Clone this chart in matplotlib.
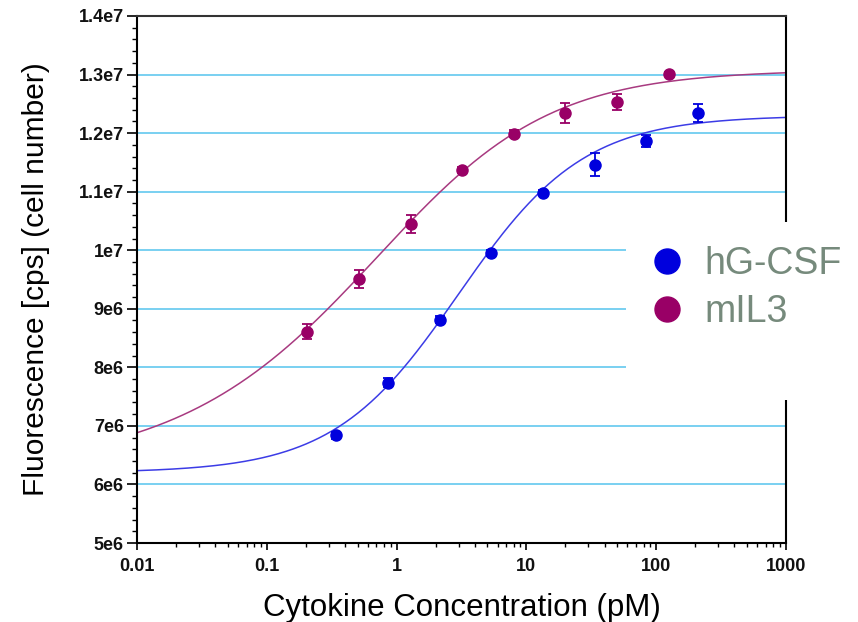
import numpy as np
import matplotlib
matplotlib.use("Agg")
import matplotlib.pyplot as plt
from matplotlib.lines import Line2D
from matplotlib.patches import Rectangle
from matplotlib.ticker import FixedLocator, FixedFormatter, LogLocator, NullFormatter

# ---- data ----
series_names = ["hG-CSF", "mIL3"]
conc_gcsf = [0.344, 0.86, 2.15, 5.38, 13.4, 33.6, 84.0, 210.0]
fluo_gcsf = [6.84e6, 7.74e6, 8.81e6, 9.95e6, 1.0985e7, 1.146e7, 1.187e7, 1.2345e7]
err_gcsf = [0.06e6, 0.08e6, 0.06e6, 0.05e6, 0.05e6, 0.20e6, 0.10e6, 0.15e6]

conc_il3 = [0.2048, 0.512, 1.28, 3.2, 8.0, 20.0, 50.0, 125.0]
fluo_il3 = [8.61e6, 9.51e6, 1.0445e7, 1.137e7, 1.1986e7, 1.234e7, 1.253e7, 1.301e7]
err_il3 = [0.13e6, 0.16e6, 0.155e6, 0.05e6, 0.06e6, 0.17e6, 0.13e6, 0.03e6]

# fitted logistic curve parameters (bottom, top, EC50, hill, asymmetry)
fit_gcsf = [6.2e6, 12.3e6, 3.0, 0.9, 1.0]
fit_il3 = [6.2e6, 13.08e6, 1.213, 0.68, 0.7]

y_ticks = [5e6, 6e6, 7e6, 8e6, 9e6, 1e7, 1.1e7, 1.2e7, 1.3e7, 1.4e7]
y_ticklabels = ["5e6", "6e6", "7e6", "8e6", "9e6", "1e7", "1.1e7", "1.2e7", "1.3e7", "1.4e7"]
x_ticks = [0.01, 0.1, 1, 10, 100, 1000]
x_ticklabels = ["0.01", "0.1", "1", "10", "100", "1000"]

col_gcsf = "#0000dd"
col_il3 = "#990066"
curve_gcsf = "#3c3ce6"
curve_il3 = "#a83a80"
grid_col = "#55c3ee"
legend_txt = "#768a7c"

plt.rcParams["font.family"] = ["Liberation Sans", "DejaVu Sans"]


def logistic(x, p):
    b, t, c, h, s = p
    return b + (t - b) / (1.0 + (c / x) ** h) ** s


fig = plt.figure(figsize=(8.58, 6.22), dpi=100)
W, H = 858.0, 622.0
ax = fig.add_axes([137 / W, 1 - 543 / H, (786 - 137) / W, (543 - 16) / H])

ax.set_xscale("log")
ax.set_xlim(0.01, 1000)
ax.set_ylim(5e6, 1.4e7)

# grid lines at major y ticks
for yv in y_ticks[1:-1]:
    ax.axhline(yv, color=grid_col, lw=1.1, zorder=1)

xx = np.logspace(-2, 3, 400)
ax.plot(xx, logistic(xx, fit_gcsf), color=curve_gcsf, lw=1.1, zorder=2)
ax.plot(xx, logistic(xx, fit_il3), color=curve_il3, lw=1.1, zorder=2)

ax.errorbar(conc_gcsf, fluo_gcsf, yerr=err_gcsf, fmt="o", color=col_gcsf,
            ms=8, elinewidth=1.3, capsize=3.8, capthick=1.3, zorder=3)
ax.errorbar(conc_il3, fluo_il3, yerr=err_il3, fmt="o", color=col_il3,
            ms=8, elinewidth=1.3, capsize=3.8, capthick=1.3, zorder=3)

# ticks
ax.yaxis.set_major_locator(FixedLocator(y_ticks))
ax.yaxis.set_major_formatter(FixedFormatter(y_ticklabels))
ax.yaxis.set_minor_locator(FixedLocator(np.arange(5e6, 1.4e7 + 1, 2e5)))
ax.xaxis.set_major_locator(FixedLocator(x_ticks))
ax.xaxis.set_major_formatter(FixedFormatter(x_ticklabels))
ax.xaxis.set_minor_locator(LogLocator(base=10, subs=np.arange(2, 10)))
ax.xaxis.set_minor_formatter(NullFormatter())

ax.tick_params(axis="y", which="major", direction="out", length=7.5, width=1.2,
               labelsize=13, pad=2, colors="black")
ax.tick_params(axis="y", which="minor", direction="out", length=3.5, width=1.0)
ax.tick_params(axis="x", which="major", direction="out", length=5, width=1.2,
               labelsize=13, pad=6, colors="black")
ax.tick_params(axis="x", which="minor", direction="out", length=3, width=1.0)
for lab in ax.get_xticklabels() + ax.get_yticklabels():
    lab.set_fontweight("bold")
    lab.set_color("#111111")

for sp in ax.spines.values():
    sp.set_linewidth(1.5)
    sp.set_color("black")
ax.spines["top"].set_color("#333333")

ax.set_xlabel("Cytokine Concentration (pM)", fontsize=22.5, labelpad=13)
ax.set_ylabel("Fluorescence [cps] (cell number)", fontsize=21.5, labelpad=21)

# white legend panel covering the right part of the plot
fig.add_artist(Rectangle((626 / W, 1 - 400 / H), (W - 626) / W, 178 / H,
                         transform=fig.transFigure, facecolor="white",
                         edgecolor="none", zorder=10))

handles = [Line2D([], [], marker="o", ls="", color=col_gcsf, ms=18),
           Line2D([], [], marker="o", ls="", color=col_il3, ms=18)]
leg = fig.legend(handles, series_names, loc="center left",
                 bbox_to_anchor=(648 / W, 1 - 288 / H), frameon=False,
                 fontsize=27, handlelength=1.0, handletextpad=0.5,
                 labelspacing=0.32, borderpad=0, borderaxespad=0,
                 labelcolor=legend_txt)
leg.set_zorder(11)

fig.savefig("out.png", dpi=100)
